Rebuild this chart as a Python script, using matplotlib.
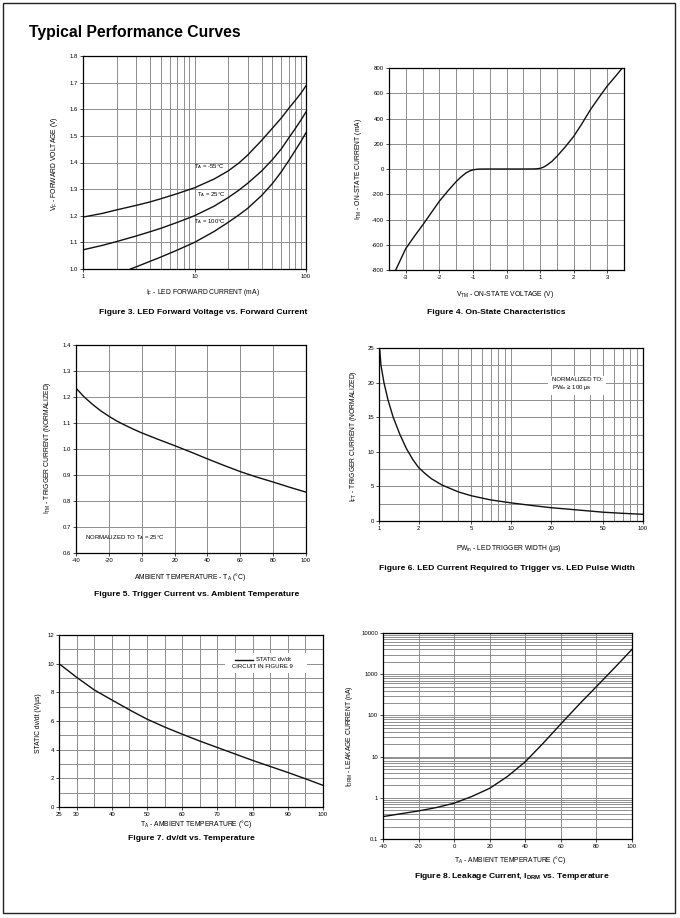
import matplotlib
matplotlib.use("Agg")
import matplotlib.pyplot as plt
from matplotlib.patches import Rectangle
from matplotlib.ticker import FixedLocator, FixedFormatter, NullFormatter, MultipleLocator

plt.rcParams["font.family"] = ["Liberation Sans", "DejaVu Sans"]
plt.rcParams["mathtext.fontset"] = "custom"
plt.rcParams["mathtext.rm"] = "Liberation Sans"
plt.rcParams["mathtext.bf"] = "Liberation Sans:bold"
plt.rcParams["axes.unicode_minus"] = False

W, H = 680, 918

# Figure 3 - LED forward voltage vs forward current
if_ma = [1, 1.5, 2, 3, 4, 5, 7, 10, 15, 20, 25, 30, 40, 50, 60, 70, 80, 90, 100]
vf_m55 = [1.195, 1.209, 1.222, 1.239, 1.252, 1.264, 1.283, 1.305, 1.338, 1.368, 1.398, 1.428,
          1.483, 1.529, 1.567, 1.603, 1.633, 1.660, 1.688]
vf_25 = [1.072, 1.089, 1.103, 1.124, 1.140, 1.153, 1.175, 1.20, 1.236, 1.268, 1.296, 1.322,
         1.368, 1.411, 1.451, 1.492, 1.527, 1.559, 1.59]
if_ma_100 = [2.66, 3, 4, 5, 7, 10, 15, 20, 25, 30, 40, 50, 60, 70, 80, 90, 100]
vf_100 = [1.0, 1.008, 1.029, 1.045, 1.071, 1.10, 1.141, 1.175, 1.203, 1.228, 1.276, 1.321,
          1.365, 1.407, 1.445, 1.479, 1.512]

# Figure 4 - on-state characteristics
vtm = [-3.3, -3.15, -3.0, -2.75, -2.5, -2.25, -2.0, -1.75, -1.5, -1.35, -1.2, -1.1, -1.0, -0.9, -0.8,
       -0.5, 0, 0.5, 0.8, 0.9, 1.0, 1.1, 1.2, 1.35, 1.5, 1.75, 2.0, 2.25, 2.5, 2.75, 3.0, 3.25, 3.45]
itm = [-800, -715, -630, -535, -445, -350, -255, -175, -100, -62, -30, -16, -7, -2.5, -0.5,
       0, 0, 0, 0.5, 1.5, 5, 14, 30, 60, 100, 175, 258, 360, 470, 565, 657, 735, 800]

# Figure 5 - trigger current vs ambient temperature
ta5 = [-40, -35, -30, -25, -20, -15, -10, -5, 0, 10, 20, 30, 40, 50, 60, 70, 80, 90, 100]
ift5 = [1.234, 1.200, 1.172, 1.147, 1.126, 1.107, 1.091, 1.076, 1.062, 1.037, 1.013, 0.988,
        0.962, 0.937, 0.913, 0.892, 0.873, 0.853, 0.834]

# Figure 6 - LED current required to trigger vs pulse width
pw = [1.01, 1.035, 1.09, 1.17, 1.28, 1.44, 1.61, 1.8, 2, 2.25, 2.5, 3, 4, 5, 7, 10, 15, 20, 30,
      50, 70, 100]
ift6 = [25, 22.5, 20, 17.5, 15, 12.5, 10.5, 8.9, 7.7, 6.8, 6.1, 5.2, 4.2, 3.65, 3.05, 2.62, 2.2,
        1.93, 1.64, 1.27, 1.11, 0.97]

# Figure 7 - dv/dt vs temperature
ta7 = [25, 30, 35, 40, 45, 50, 55, 60, 65, 70, 75, 80, 85, 90, 95, 100]
dvdt = [10.0, 9.05, 8.17, 7.47, 6.78, 6.13, 5.58, 5.08, 4.6, 4.15, 3.7, 3.25, 2.83, 2.41, 1.97, 1.51]

# Figure 8 - leakage current vs temperature
ta8 = [-40, -30, -20, -10, 0, 10, 20, 30, 40, 50, 60, 70, 80, 90, 100]
idrm = [0.35, 0.41, 0.48, 0.58, 0.74, 1.08, 1.7, 3.3, 7.5, 21, 62, 180, 500, 1400, 4000]

TICK = 4.3
LAB = 4.9
CAP = 6.1
LINE = dict(color="#111111", linewidth=1.0)


def box(l, t, r, b):
    return [l / W, 1 - b / H, (r - l) / W, (b - t) / H]


def ftext(x, y, s, **kw):
    kw.setdefault("ha", "center")
    kw.setdefault("va", "center")
    fig.text(x / W, 1 - y / H, s, **kw)


def style(ax):
    ax.tick_params(which="both", labelsize=TICK, length=2, width=0.5, pad=1.5)
    ax.tick_params(which="minor", length=0)
    for s in ax.spines.values():
        s.set_linewidth(0.9)
    ax.grid(which="both", color="#8f8f8f", linewidth=0.7)
    ax.set_axisbelow(True)


fig = plt.figure(figsize=(W / 100, H / 100), dpi=100)
fig.patches.append(Rectangle((3 / W, 1 - 913 / H), 672 / W, 910 / H, transform=fig.transFigure,
                             fill=False, edgecolor="#222222", linewidth=1.0))
ftext(29, 33, "Typical Performance Curves", ha="left", fontsize=11.3, fontweight="bold")

# ---- Figure 3
ax = fig.add_axes(box(83, 56, 306, 269))
ax.plot(if_ma, vf_m55, **LINE)
ax.plot(if_ma, vf_25, **LINE)
ax.plot(if_ma_100, vf_100, **LINE)
ax.set_xscale("log")
ax.set_xlim(1, 100)
ax.set_ylim(1.0, 1.8)
ax.xaxis.set_major_locator(FixedLocator([1, 10, 100]))
ax.xaxis.set_major_formatter(FixedFormatter(["1", "10", "100"]))
ax.xaxis.set_minor_locator(FixedLocator([2, 3, 4, 5, 6, 7, 8, 9, 20, 30, 40, 50, 60, 70, 80, 90]))
ax.xaxis.set_minor_formatter(NullFormatter())
ax.yaxis.set_major_locator(MultipleLocator(0.1))
ax.yaxis.set_major_formatter(matplotlib.ticker.FormatStrFormatter("%.1f"))
style(ax)
ax.text(0.498, 0.480, r"T$_\mathrm{A}$ = -55°C", transform=ax.transAxes, fontsize=TICK, va="center")
ax.text(0.511, 0.351, r"T$_\mathrm{A}$ = 25°C", transform=ax.transAxes, fontsize=TICK, va="center")
ax.text(0.498, 0.225, r"T$_\mathrm{A}$ = 100°C", transform=ax.transAxes, fontsize=TICK, va="center")
ftext(55, 164, r"V$_\mathrm{F}$ - FORWARD VOLTAGE (V)", rotation=90, fontsize=LAB)
ftext(203, 292, r"I$_\mathrm{F}$ - LED FORWARD CURRENT (mA)", fontsize=LAB)
ftext(203, 312, "Figure 3. LED Forward Voltage vs. Forward Current", fontsize=CAP, fontweight="bold")

# ---- Figure 4
ax = fig.add_axes(box(389, 68, 624, 270))
ax.plot(vtm, itm, **LINE)
ax.set_xlim(-3.5, 3.5)
ax.set_ylim(-800, 800)
ax.xaxis.set_major_locator(FixedLocator([-3, -2, -1, 0, 1, 2, 3]))
ax.xaxis.set_minor_locator(MultipleLocator(0.5))
ax.yaxis.set_major_locator(MultipleLocator(200))
style(ax)
ftext(359, 169, r"I$_\mathrm{TM}$ - ON-STATE CURRENT (mA)", rotation=90, fontsize=LAB)
ftext(505, 294, r"V$_\mathrm{TM}$ - ON-STATE VOLTAGE (V)", fontsize=LAB)
ftext(496, 313, "Figure 4. On-State Characteristics", fontsize=CAP, fontweight="bold")

# ---- Figure 5
ax = fig.add_axes(box(76, 345, 306, 553))
ax.plot(ta5, ift5, **LINE)
ax.set_xlim(-40, 100)
ax.set_ylim(0.6, 1.4)
ax.xaxis.set_major_locator(MultipleLocator(20))
ax.yaxis.set_major_locator(MultipleLocator(0.1))
ax.yaxis.set_major_formatter(matplotlib.ticker.FormatStrFormatter("%.1f"))
style(ax)
ax.text(0.04, 0.072, r"NORMALIZED TO T$_\mathrm{A}$ = 25°C", transform=ax.transAxes, fontsize=TICK, va="center")
ftext(48, 448, r"I$_\mathrm{TM}$ - TRIGGER CURRENT (NORMALIZED)", rotation=90, fontsize=LAB)
ftext(190, 577, r"AMBIENT TEMPERATURE - T$_\mathrm{A}$ (°C)", fontsize=LAB)
ftext(197, 594, "Figure 5. Trigger Current vs. Ambient Temperature", fontsize=CAP, fontweight="bold")

# ---- Figure 6
ax = fig.add_axes(box(379, 348, 643, 521))
ax.plot(pw, ift6, **LINE)
ax.set_xscale("log")
ax.set_xlim(1, 100)
ax.set_ylim(0, 25)
ax.xaxis.set_major_locator(FixedLocator([1, 2, 5, 10, 20, 50, 100]))
ax.xaxis.set_major_formatter(FixedFormatter(["1", "2", "5", "10", "20", "50", "100"]))
ax.xaxis.set_minor_locator(FixedLocator([3, 4, 6, 7, 8, 9, 30, 40, 60, 70, 80, 90]))
ax.xaxis.set_minor_formatter(NullFormatter())
ax.yaxis.set_major_locator(MultipleLocator(5))
ax.yaxis.set_minor_locator(MultipleLocator(2.5))
style(ax)
ax.text(0.655, 0.79, "NORMALIZED TO:\nPW$_\\mathrm{in}$ ≥ 100 µs", transform=ax.transAxes, fontsize=TICK,
        va="center", linespacing=1.1,
        bbox=dict(facecolor="white", edgecolor="none", pad=2.5))
ftext(353, 436, r"I$_\mathrm{FT}$ - TRIGGER CURRENT (NORMALIZED)", rotation=90, fontsize=LAB)
ftext(509, 548, r"PW$_\mathrm{in}$ - LED TRIGGER WIDTH (µs)", fontsize=LAB)
ftext(507, 568, "Figure 6. LED Current Required to Trigger vs. LED Pulse Width", fontsize=CAP, fontweight="bold")

# ---- Figure 7
ax = fig.add_axes(box(59, 635, 323, 807))
ax.plot(ta7, dvdt, **LINE)
ax.set_xlim(25, 100)
ax.set_ylim(0, 12)
ax.xaxis.set_major_locator(FixedLocator([25, 30, 40, 50, 60, 70, 80, 90, 100]))
ax.xaxis.set_minor_locator(MultipleLocator(5))
ax.yaxis.set_major_locator(MultipleLocator(2))
ax.yaxis.set_minor_locator(MultipleLocator(1))
style(ax)
ax.add_patch(Rectangle((0.63, 0.78), 0.31, 0.115, transform=ax.transAxes, facecolor="white",
                       edgecolor="none", zorder=3))
ax.plot([0.667, 0.735], [0.855, 0.855], transform=ax.transAxes, zorder=4, **LINE)
ax.text(0.746, 0.855, "STATIC dv/dt", transform=ax.transAxes, fontsize=TICK, va="center", zorder=5)
ax.text(0.77, 0.814, "CIRCUIT IN FIGURE 9", transform=ax.transAxes, fontsize=TICK, va="center",
        ha="center", zorder=5)
ftext(39, 723, "STATIC dv/dt (V/µs)", rotation=90, fontsize=LAB)
ftext(196, 824, r"T$_\mathrm{A}$ - AMBIENT TEMPERATURE (°C)", fontsize=LAB)
ftext(191, 838, "Figure 7. dv/dt vs. Temperature", fontsize=CAP, fontweight="bold")

# ---- Figure 8
ax = fig.add_axes(box(383, 633, 632, 839))
ax.plot(ta8, idrm, **LINE)
ax.set_yscale("log")
ax.set_xlim(-40, 100)
ax.set_ylim(0.1, 10000)
ax.xaxis.set_major_locator(MultipleLocator(20))
ax.yaxis.set_major_locator(FixedLocator([0.1, 1, 10, 100, 1000, 10000]))
ax.yaxis.set_major_formatter(FixedFormatter(["0.1", "1", "10", "100", "1000", "10000"]))
ax.yaxis.set_minor_locator(matplotlib.ticker.LogLocator(base=10, subs=range(2, 10)))
ax.yaxis.set_minor_formatter(NullFormatter())
style(ax)
ftext(350, 736, r"I$_\mathrm{DRM}$ - LEAKAGE CURRENT (nA)", rotation=90, fontsize=LAB)
ftext(510, 860, r"T$_\mathrm{A}$ - AMBIENT TEMPERATURE (°C)", fontsize=LAB)
ftext(512, 876, r"Figure 8. Leakage Current, I$_\mathbf{DRM}$ vs. Temperature", fontsize=CAP,
      fontweight="bold")

fig.savefig("out.png", dpi=100)
